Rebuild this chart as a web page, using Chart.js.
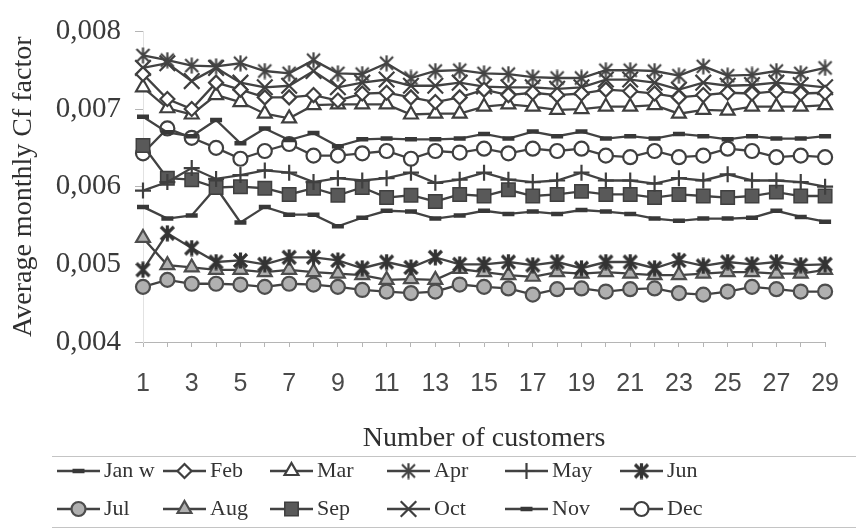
<!DOCTYPE html>
<html>
<head>
<meta charset="utf-8">
<script src="https://cdn.jsdelivr.net/npm/chart.js@4.4.1/dist/chart.umd.min.js"></script>
<style>
  html, body { margin: 0; padding: 0; background: #fff; }
</style>
</head>
<body>
<canvas id="cf_chart" width="861" height="531"></canvas>
<script>
// number of customers (x categories)
const customers = [1, 2, 3, 4, 5, 6, 7, 8, 9, 10, 11, 12, 13, 14, 15, 16, 17, 18, 19, 20, 21, 22, 23, 24, 25, 26, 27, 28, 29];

const yTickLabels = ['0,004', '0,005', '0,006', '0,007', '0,008'];

const janW = [0.0069, 0.0067, 0.00665, 0.00686, 0.00656, 0.00675, 0.0066, 0.00669, 0.00652, 0.00661, 0.00662, 0.00661, 0.00661, 0.00662, 0.00668, 0.00662, 0.00671, 0.00665, 0.00671, 0.00662, 0.00665, 0.00662, 0.00668, 0.00665, 0.00661, 0.00665, 0.00662, 0.00662, 0.00665];
const feb = [0.00745, 0.00713, 0.007, 0.00734, 0.00725, 0.00715, 0.00715, 0.00718, 0.00711, 0.0072, 0.00721, 0.00715, 0.00709, 0.00715, 0.00725, 0.00718, 0.00721, 0.00718, 0.0072, 0.00725, 0.00723, 0.0072, 0.00715, 0.00718, 0.00721, 0.0072, 0.00723, 0.0072, 0.00721];
const mar = [0.00728, 0.00701, 0.00693, 0.00718, 0.00709, 0.00694, 0.00688, 0.00705, 0.00706, 0.00706, 0.00706, 0.00693, 0.00694, 0.00694, 0.00703, 0.00706, 0.00703, 0.00699, 0.007, 0.00703, 0.00703, 0.00705, 0.00694, 0.00699, 0.00698, 0.00703, 0.00703, 0.00703, 0.00705];
const apr = [0.00769, 0.00763, 0.00756, 0.00755, 0.00759, 0.00749, 0.00746, 0.00763, 0.00746, 0.00745, 0.00759, 0.0074, 0.00749, 0.0075, 0.00746, 0.00745, 0.00741, 0.0074, 0.0074, 0.0075, 0.0075, 0.00749, 0.00743, 0.00755, 0.00743, 0.00744, 0.00749, 0.00746, 0.00753];
const may = [0.00595, 0.00606, 0.00624, 0.0061, 0.00615, 0.00621, 0.00618, 0.00606, 0.00611, 0.00608, 0.00611, 0.00618, 0.00605, 0.00609, 0.00618, 0.00609, 0.00606, 0.00608, 0.00618, 0.00608, 0.00608, 0.00604, 0.00611, 0.00608, 0.00616, 0.00608, 0.00608, 0.00606, 0.006];
const jun = [0.00493, 0.0054, 0.00521, 0.00503, 0.00505, 0.005, 0.00509, 0.00509, 0.00505, 0.00495, 0.00503, 0.00496, 0.00509, 0.005, 0.005, 0.00503, 0.00499, 0.00503, 0.00495, 0.00503, 0.00503, 0.00495, 0.00505, 0.00498, 0.00503, 0.005, 0.00503, 0.00499, 0.005];
const jul = [0.00471, 0.0048, 0.00475, 0.00475, 0.00474, 0.00471, 0.00475, 0.00474, 0.00471, 0.00467, 0.00465, 0.00463, 0.00465, 0.00474, 0.00471, 0.00469, 0.00461, 0.00468, 0.00469, 0.00465, 0.00468, 0.00469, 0.00463, 0.00461, 0.00465, 0.00471, 0.00468, 0.00465, 0.00465];
const aug = [0.00534, 0.00499, 0.00496, 0.00493, 0.00493, 0.0049, 0.00493, 0.0049, 0.00488, 0.00486, 0.0048, 0.00481, 0.0048, 0.00494, 0.0049, 0.00486, 0.00484, 0.0049, 0.00488, 0.0049, 0.00488, 0.00486, 0.00486, 0.00488, 0.0049, 0.0049, 0.00488, 0.00488, 0.00493];
const sep = [0.00653, 0.00611, 0.00609, 0.00599, 0.006, 0.00598, 0.0059, 0.00598, 0.00589, 0.00599, 0.00586, 0.00589, 0.00581, 0.0059, 0.00588, 0.00596, 0.00588, 0.0059, 0.00594, 0.0059, 0.0059, 0.00586, 0.0059, 0.00588, 0.00586, 0.00588, 0.00593, 0.00588, 0.00588];
const oct = [0.00753, 0.00759, 0.00736, 0.00753, 0.00734, 0.00728, 0.0073, 0.00749, 0.00728, 0.00734, 0.00738, 0.0073, 0.0073, 0.00734, 0.00729, 0.00728, 0.00728, 0.00726, 0.00728, 0.00738, 0.00738, 0.00734, 0.00725, 0.00734, 0.0073, 0.00731, 0.00734, 0.00731, 0.00728];
const nov = [0.00574, 0.00559, 0.00563, 0.00599, 0.00554, 0.00574, 0.00564, 0.00564, 0.00549, 0.0056, 0.00569, 0.00568, 0.00559, 0.00563, 0.00569, 0.00565, 0.00568, 0.00565, 0.0057, 0.00568, 0.00565, 0.00559, 0.00556, 0.00559, 0.00559, 0.0056, 0.00569, 0.00561, 0.00555];
const dec = [0.00643, 0.00675, 0.00663, 0.0065, 0.00636, 0.00646, 0.00655, 0.0064, 0.0064, 0.00643, 0.00646, 0.00636, 0.00646, 0.00644, 0.00649, 0.00643, 0.00649, 0.00646, 0.00649, 0.0064, 0.00638, 0.00646, 0.00638, 0.0064, 0.00649, 0.00646, 0.00638, 0.0064, 0.00638];

const LINE = '#424242';
const GRAYFILL = '#b0b0b0';

// Excel style "*" marker: an X with a vertical bar
function makeAsterisk(size, lw, color) {
    const c = document.createElement('canvas');
    c.width = size;
    c.height = size;
    const g = c.getContext('2d');
    g.strokeStyle = color;
    g.lineWidth = lw;
    const m = 2, s = size - 2;
    g.beginPath();
    g.moveTo(m, m); g.lineTo(s, s);
    g.moveTo(s, m); g.lineTo(m, s);
    g.moveTo(size / 2, 0.5); g.lineTo(size / 2, size - 0.5);
    g.stroke();
    return c;
}

const aprStar = makeAsterisk(17, 2.2, '#444');
const junStar = makeAsterisk(17, 3.2, '#333');

function series(label, data, style, radius, bg, border, bw) {
    return {
        label: label,
        data: data,
        borderColor: LINE,
        borderWidth: 2.3,
        pointStyle: style,
        pointRadius: radius,
        pointBackgroundColor: bg,
        pointBorderColor: border,
        pointBorderWidth: bw,
        tension: 0,
        fill: false
    };
}

const datasets = [
    series('Jan w', janW, 'line', 6, '#383838', '#383838', 4.5),
    series('Feb', feb, 'rectRot', 7, '#fff', '#3f3f3f', 2.2),
    series('Mar', mar, 'triangle', 8, '#fff', '#3f3f3f', 2.2),
    series('Apr', apr, aprStar, 8, '#fff', '#444', 2.2),
    series('May', may, 'cross', 8, '#fff', '#3f3f3f', 2.2),
    series('Jun', jun, junStar, 8, '#fff', '#333', 3.2),
    series('Jul', jul, 'circle', 7, GRAYFILL, '#4d4d4d', 2.2),
    series('Aug', aug, 'triangle', 8, GRAYFILL, '#4d4d4d', 2.2),
    series('Sep', sep, 'rect', 9.5, '#595959', '#3f3f3f', 1.5),
    series('Oct', oct, 'crossRot', 11, '#fff', '#3f3f3f', 2.2),
    series('Nov', nov, 'line', 6, '#383838', '#383838', 4.5),
    series('Dec', dec, 'circle', 7, '#fff', '#3f3f3f', 2.2)
];

// legend drawn below the axis, two rows of six, line sample with marker
function drawMarker(ctx, ds, x, y) {
    const st = ds.pointStyle;
    const r = ds.pointRadius;
    ctx.save();
    ctx.fillStyle = ds.pointBackgroundColor;
    ctx.strokeStyle = ds.pointBorderColor;
    ctx.lineWidth = ds.pointBorderWidth;
    if (typeof st !== 'string') {
        ctx.drawImage(st, x - st.width / 2, y - st.height / 2);
        ctx.restore();
        return;
    }
    ctx.beginPath();
    if (st === 'line') {
        ctx.moveTo(x - r, y); ctx.lineTo(x + r, y);
        ctx.stroke();
    } else if (st === 'cross') {
        ctx.moveTo(x - r, y); ctx.lineTo(x + r, y);
        ctx.moveTo(x, y - r); ctx.lineTo(x, y + r);
        ctx.stroke();
    } else if (st === 'crossRot') {
        const d = r * Math.SQRT1_2;
        ctx.moveTo(x - d, y - d); ctx.lineTo(x + d, y + d);
        ctx.moveTo(x + d, y - d); ctx.lineTo(x - d, y + d);
        ctx.stroke();
    } else if (st === 'circle') {
        ctx.arc(x, y, r, 0, Math.PI * 2);
        ctx.fill(); ctx.stroke();
    } else if (st === 'rect') {
        const h = r * Math.SQRT1_2;
        ctx.rect(x - h, y - h, 2 * h, 2 * h);
        ctx.fill(); ctx.stroke();
    } else if (st === 'rectRot') {
        ctx.moveTo(x, y - r); ctx.lineTo(x + r, y); ctx.lineTo(x, y + r); ctx.lineTo(x - r, y);
        ctx.closePath();
        ctx.fill(); ctx.stroke();
    } else if (st === 'triangle') {
        ctx.moveTo(x, y - r);
        ctx.lineTo(x + r * 0.866, y + r * 0.5);
        ctx.lineTo(x - r * 0.866, y + r * 0.5);
        ctx.closePath();
        ctx.fill(); ctx.stroke();
    }
    ctx.restore();
}

const bottomLegend = {
    id: 'bottomLegend',
    afterDraw(chart) {
        const ctx = chart.ctx;
        const cols = [57, 163, 270, 387, 505, 620];
        const rows = [471, 509];
        const len = 43;
        ctx.save();
        ctx.strokeStyle = '#c4c4c4';
        ctx.lineWidth = 1;
        ctx.beginPath();
        ctx.moveTo(52, 456.5); ctx.lineTo(856, 456.5);
        ctx.moveTo(52, 527.5); ctx.lineTo(856, 527.5);
        ctx.stroke();
        chart.data.datasets.forEach(function (ds, i) {
            const x0 = cols[i % 6];
            const y = rows[Math.floor(i / 6)];
            ctx.strokeStyle = LINE;
            ctx.lineWidth = 2.3;
            ctx.beginPath();
            ctx.moveTo(x0, y); ctx.lineTo(x0 + len, y);
            ctx.stroke();
            drawMarker(ctx, ds, x0 + len / 2, y);
            ctx.fillStyle = '#333';
            ctx.font = '22px "Liberation Serif"';
            ctx.textBaseline = 'middle';
            ctx.textAlign = 'left';
            ctx.fillText(ds.label, x0 + len + 4, y);
        });
        ctx.restore();
    }
};

new Chart(document.getElementById('cf_chart'), {
    type: 'line',
    data: {
        labels: customers,
        datasets: datasets
    },
    options: {
        responsive: false,
        animation: false,
        layout: {
            padding: { top: 22, right: 18, bottom: 68, left: 0 }
        },
        plugins: {
            legend: { display: false },
            tooltip: { enabled: false }
        },
        scales: {
            x: {
                type: 'category',
                offset: false,
                afterFit: function (scale) { scale.height = 121; },
                grid: {
                    drawOnChartArea: false,
                    color: '#b5b5b5',
                    tickLength: 5
                },
                border: { color: '#b5b5b5', width: 1 },
                ticks: {
                    autoSkip: false,
                    maxRotation: 0,
                    padding: 22,
                    color: '#4a4a4a',
                    font: { family: '"Liberation Sans"', size: 25 },
                    callback: function (value, index) {
                        return index % 2 === 0 ? String(customers[index]) : '';
                    }
                },
                title: {
                    display: true,
                    text: 'Number of customers',
                    color: '#2f2f2f',
                    font: { family: '"Liberation Serif"', size: 28 },
                    padding: { top: 0, bottom: 8 }
                }
            },
            y: {
                min: 0.004,
                max: 0.008,
                afterFit: function (scale) { scale.width = 143; },
                grid: {
                    drawOnChartArea: false,
                    color: '#b5b5b5',
                    tickLength: 8
                },
                border: { color: '#e2e2e2', width: 1 },
                ticks: {
                    stepSize: 0.001,
                    padding: 14,
                    color: '#3a3a3a',
                    font: { family: '"Liberation Serif"', size: 29 },
                    callback: function (value, index) {
                        return yTickLabels[index];
                    }
                },
                title: {
                    display: true,
                    text: 'Average monthly Cf factor',
                    color: '#2f2f2f',
                    font: { family: '"Liberation Serif"', size: 28 },
                    padding: { top: 7, bottom: 0 }
                }
            }
        }
    },
    plugins: [bottomLegend]
});
</script>
</body>
</html>
